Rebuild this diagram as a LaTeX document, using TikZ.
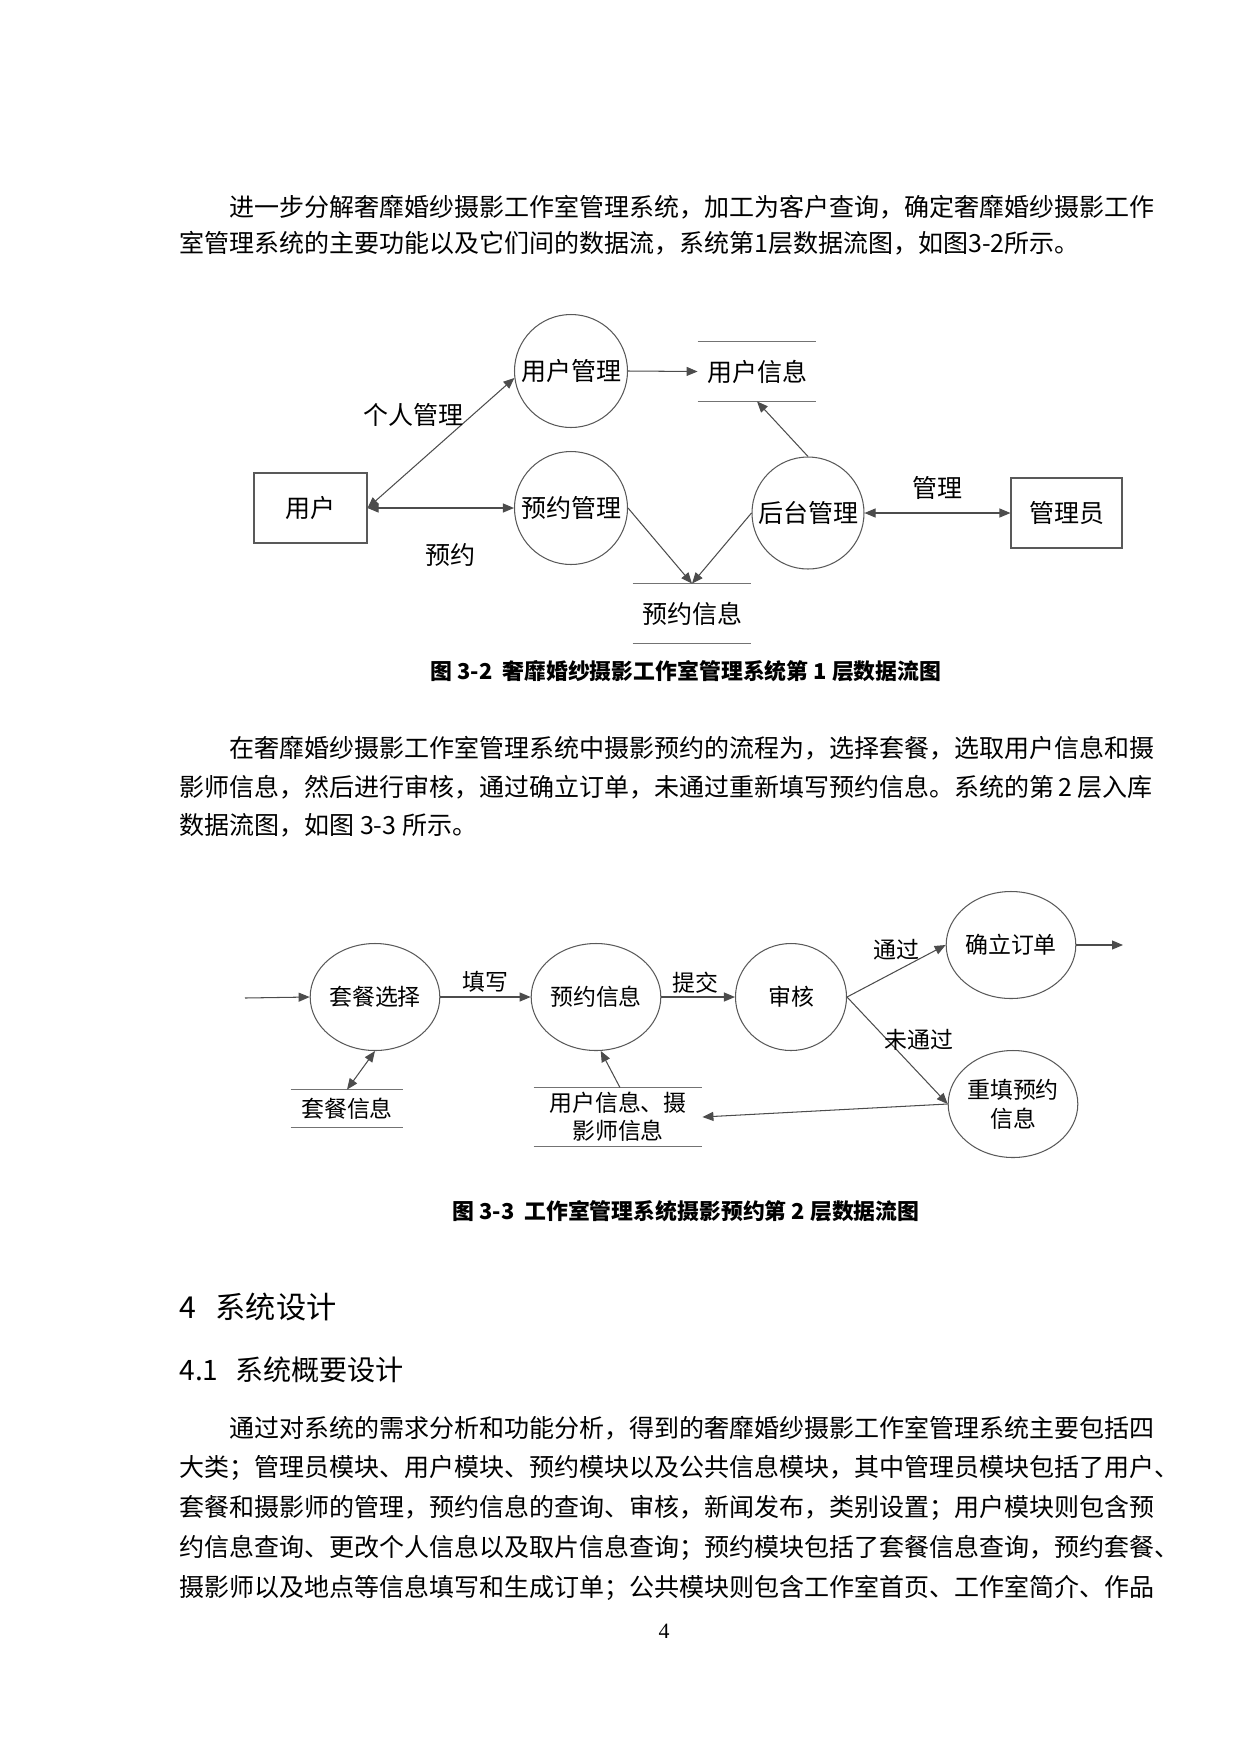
\documentclass[tikz,border=0pt]{standalone}
\usepackage{fontspec}
\setmainfont{Noto Sans CJK SC}
\newfontfamily\tnr{Liberation Serif}
\usetikzlibrary{arrows.meta,shapes.geometric}
\XeTeXlinebreaklocale "zh"
\XeTeXlinebreakskip=0pt plus 2pt minus 0.6pt
\newcommand\jl[1]{\hbox to 467pt{#1}}
\newcommand\ind{\hskip 24pt\relax}
\begin{document}
\begin{tikzpicture}[x=0.48pt,y=-0.48pt,
  txt/.style={anchor=west, inner sep=0pt, font=\fontsize{12pt}{14pt}\selectfont},
  head/.style={anchor=west, inner sep=0pt},
  figcap/.style={inner sep=0pt, font=\fontsize{10.5pt}{12pt}\selectfont\bfseries},
  proc/.style={circle, draw=black!65, line width=0.5pt, minimum size=113*0.48pt, inner sep=0pt, font=\fontsize{12pt}{14pt}\selectfont},
  proctwo/.style={ellipse, draw=black!65, line width=0.5pt, minimum width=111*0.48pt, minimum height=107*0.48pt, inner sep=0pt, align=center, font=\fontsize{11pt}{14pt}\selectfont},
  ent/.style={rectangle, draw=black!65, line width=0.5pt, inner sep=0pt, font=\fontsize{12pt}{14pt}\selectfont},
  store/.style={inner sep=0pt, align=center},
  storeline/.style={draw=black!55, line width=0.5pt},
  lbl/.style={inner sep=0pt, font=\fontsize{12pt}{14pt}\selectfont},
  lbltwo/.style={inner sep=0pt, font=\fontsize{11pt}{14pt}\selectfont},
  flow/.style={draw=black!70, line width=0.5pt, -{Triangle[length=11*0.48pt,width=9*0.48pt]}},
  bflow/.style={draw=black!70, line width=0.5pt, {Triangle[length=11*0.48pt,width=9*0.48pt]}-{Triangle[length=11*0.48pt,width=9*0.48pt]}}
]
\useasboundingbox (0,0) rectangle (1241,1754);

% ---------- paragraph 1
\node[txt] (p1a) at (179,207) {\jl{\ind 进一步分解奢靡婚纱摄影工作室管理系统，加工为客户查询，确定奢靡婚纱摄影工作}};
\node[txt] (p1b) at (179,243) {室管理系统的主要功能以及它们间的数据流，系统第1层数据流图，如图3-2所示。};

% ---------- diagram 1
\node[ent, minimum width=113*0.48pt, minimum height=70*0.48pt] (yh) at (310.5,508) {用户};
\node[ent, minimum width=111*0.48pt, minimum height=70*0.48pt] (glr) at (1066.5,513) {管理员};
\node[proc] (yhgl) at (571,371) {用户管理};
\node[proc] (yygl) at (571,508) {预约管理};
\node[proc, minimum size=112*0.48pt] (htgl) at (808,513) {后台管理};
\node[store, minimum width=118*0.48pt, minimum height=59*0.48pt, font=\fontsize{12pt}{14pt}\selectfont] (yhxx) at (757,371.5) {用户信息};
\node[store, minimum width=118*0.48pt, minimum height=59*0.48pt, font=\fontsize{12pt}{14pt}\selectfont] (yyxx) at (692,613.5) {预约信息};
\draw[storeline] (yhxx.north west) -- (yhxx.north east) (yhxx.south west) -- (yhxx.south east);
\draw[storeline] (yyxx.north west) -- (yyxx.north east) (yyxx.south west) -- (yyxx.south east);

\draw[bflow] (yh.east) -- (yhgl.187);
\draw[bflow] (yh.east) -- (yygl.west);
\draw[flow] (yhgl.east) -- (yhxx.west);
\draw[flow] (htgl.north) -- (yhxx.south);
\draw[flow] (yygl.east) -- (yyxx.north);
\draw[flow] (htgl.west) -- (yyxx.north);
\draw[bflow] (htgl.east) -- (glr.west);

\node[lbl] (l1) at (413,415) {个人管理};
\node[lbl] (l2) at (450,555) {预约};
\node[lbl] (l3) at (937,488) {管理};

\node[figcap] (cap1) at (686,671) {图 3-2\ \ 奢靡婚纱摄影工作室管理系统第 1 层数据流图};

% ---------- paragraph 2
\node[txt] (p2a) at (179,748) {\jl{\ind 在奢靡婚纱摄影工作室管理系统中摄影预约的流程为，选择套餐，选取用户信息和摄}};
\node[txt] (p2b) at (179,787) {\jl{影师信息，然后进行审核，通过确立订单，未通过重新填写预约信息。系统的第 2 层入库}};
\node[txt] (p2c) at (179,825) {数据流图，如图 3-3 所示。};

% ---------- diagram 2
\coordinate (in) at (245,998);
\coordinate (out) at (1123,945);
\node[proctwo] (tcxz) at (375,997) {套餐选择};
\node[proctwo] (yyxx2) at (596,997) {预约信息};
\node[proctwo] (sh) at (791,997) {审核};
\node[proctwo] (qldd) at (1011,945) {确立订单};
\node[proctwo] (ctyy) at (1013,1104) {重填预约\\信息};
\node[store, minimum width=112*0.48pt, minimum height=37*0.48pt, font=\fontsize{11pt}{14pt}\selectfont] (tcxx) at (347,1108.5) {套餐信息};
\node[store, minimum width=168*0.48pt, minimum height=58*0.48pt, font=\fontsize{11pt}{13.5pt}\selectfont] (yhsy) at (618,1117) {用户信息、摄\\影师信息};
\draw[storeline] (tcxx.north west) -- (tcxx.north east) (tcxx.south west) -- (tcxx.south east);
\draw[storeline] (yhsy.north west) -- (yhsy.north east) (yhsy.south west) -- (yhsy.south east);

\draw[flow] (in) -- (tcxz.west);
\draw[flow] (tcxz.east) -- (yyxx2.west);
\draw[flow] (yyxx2.east) -- (sh.west);
\draw[flow] (sh.east) -- (qldd.west);
\draw[flow] (qldd.east) -- (out);
\draw[flow] (sh.east) -- (ctyy.west);
\draw[bflow] (tcxx.north) -- (tcxz.south);
\draw[flow] ([xshift=2*0.48pt]yhsy.north) -- (yyxx2.275);
\draw[flow] (ctyy.west) -- (yhsy.east);

\node[lbltwo] (m1) at (485,982) {填写};
\node[lbltwo] (m2) at (695,983) {提交};
\node[lbltwo] (m3) at (896,950) {通过};
\node[lbltwo] (m4) at (919,1040) {未通过};

\node[figcap] (cap2) at (686,1211) {图 3-3\ \ 工作室管理系统摄影预约第 2 层数据流图};

% ---------- headings
\node[head, font=\fontsize{14.5pt}{17pt}\selectfont] (h1) at (179,1307) {4\hskip 0.65em 系统设计};
\node[head, font=\fontsize{13.5pt}{16pt}\selectfont] (h2) at (179,1370) {4.1\hskip 0.6em 系统概要设计};

% ---------- paragraph 3
\node[txt] (p3a) at (179,1428) {\jl{\ind 通过对系统的需求分析和功能分析，得到的奢靡婚纱摄影工作室管理系统主要包括四}};
\node[txt] (p3b) at (179,1468) {\jl{大类；管理员模块、用户模块、预约模块以及公共信息模块，其中管理员模块包括了用户、}};
\node[txt] (p3c) at (179,1508) {\jl{套餐和摄影师的管理，预约信息的查询、审核，新闻发布，类别设置；用户模块则包含预}};
\node[txt] (p3d) at (179,1548) {\jl{约信息查询、更改个人信息以及取片信息查询；预约模块包括了套餐信息查询，预约套餐、}};
\node[txt] (p3e) at (179,1588) {\jl{摄影师以及地点等信息填写和生成订单；公共模块则包含工作室首页、工作室简介、作品}};

\node[inner sep=0pt, font=\tnr\fontsize{10.5pt}{12pt}\selectfont] (pg) at (664,1631) {4};
\end{tikzpicture}
\end{document}
